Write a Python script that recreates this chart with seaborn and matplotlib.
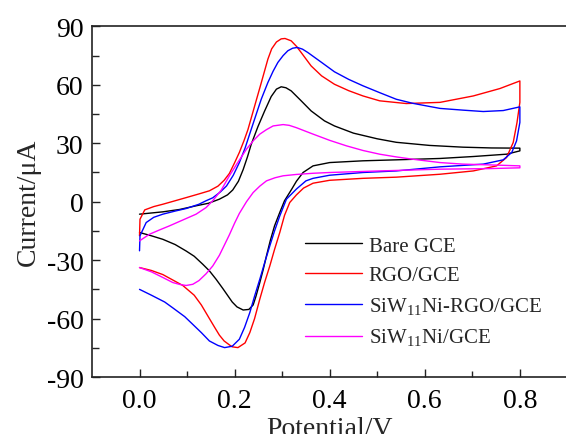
import numpy as np
import pandas as pd
import matplotlib
matplotlib.use("Agg")
import matplotlib.pyplot as plt
import seaborn as sns

# cyclic voltammograms (potential in V, current in uA)
labels = ["Bare GCE", "RGO/GCE", r"SiW$_{\rm 11}$Ni-RGO/GCE", r"SiW$_{\rm 11}$Ni/GCE"]
colors = ["black", "red", "blue", "magenta"]

# Bare GCE: anodic sweep 0 -> 0.8 V, then cathodic sweep back to 0
bare_E = [0.0, 0.049, 0.084, 0.119, 0.145, 0.168, 0.185, 0.196, 0.208, 0.218, 0.227, 0.235,
          0.249, 0.263, 0.277, 0.288, 0.298, 0.308, 0.319, 0.34, 0.361, 0.389, 0.41, 0.45,
          0.5, 0.54, 0.61, 0.68, 0.74, 0.8,
          0.8, 0.772, 0.702, 0.632, 0.54, 0.47, 0.4, 0.365, 0.344, 0.33, 0.32, 0.305, 0.295,
          0.284, 0.275, 0.267, 0.26, 0.253, 0.245, 0.239, 0.23, 0.218, 0.205, 0.195, 0.185,
          0.175, 0.161, 0.147, 0.133, 0.115, 0.098, 0.075, 0.049, 0.025, 0.0]
bare_I = [-6.4, -5.2, -4.0, -2.1, -0.8, 1.3, 3.5, 6.0, 10.5, 16.5, 23.0, 29.5,
          38.5, 46.5, 54.0, 57.8, 59.0, 58.5, 56.9, 51.8, 46.6, 41.5, 38.9, 35.2,
          32.3, 30.5, 28.9, 28.0, 27.6, 27.5,
          26.1, 24.4, 23.2, 22.2, 21.5, 21.0, 20.1, 18.4, 15.0, 10.5, 6.4, 0.5, -5.5,
          -12.4, -20.0, -27.8, -35.0, -41.5, -48.5, -53.0, -55.3, -55.6, -54.0, -51.5, -48.0,
          -44.5, -39.8, -35.5, -32.1, -28.0, -25.3, -22.0, -19.3, -17.5, -15.8]

# RGO/GCE
rgo_E = [0.0, 0.001, 0.011, 0.03, 0.049, 0.075, 0.098, 0.125, 0.147, 0.165, 0.178, 0.189,
         0.2, 0.21, 0.22, 0.228, 0.242, 0.256, 0.27, 0.278, 0.288, 0.298, 0.306, 0.319,
         0.33, 0.34, 0.361, 0.383, 0.41, 0.44, 0.47, 0.505, 0.561, 0.632, 0.702, 0.758, 0.8,
         0.8, 0.794, 0.786, 0.772, 0.751, 0.702, 0.632, 0.54, 0.47, 0.4, 0.365, 0.345, 0.33,
         0.316, 0.305, 0.295, 0.284, 0.274, 0.263, 0.253, 0.242, 0.232, 0.222, 0.207, 0.195,
         0.189, 0.178, 0.168, 0.158, 0.147, 0.13, 0.115, 0.091, 0.07, 0.049, 0.025, 0.0]
rgo_I = [-17.5, -9.0, -4.2, -2.5, -1.3, 0.5, 2.1, 4.0, 5.6, 8.0, 11.0, 14.5,
         20.0, 25.3, 31.5, 37.0, 49.0, 61.0, 73.2, 78.5, 82.0, 83.6, 83.8, 82.6,
         79.8, 76.6, 69.7, 64.6, 60.3, 57.0, 54.3, 51.8, 50.4, 51.0, 54.3, 58.1, 62.0,
         51.0, 40.7, 30.4, 22.7, 18.4, 15.8, 14.1, 12.6, 12.0, 11.0, 9.5, 7.0, 3.5,
         -0.4, -7.0, -15.8, -24.5, -33.0, -41.5, -50.0, -60.0, -67.2, -72.5, -74.9, -74.5,
         -73.5, -71.5, -68.5, -64.5, -60.0, -53.0, -48.0, -43.0, -40.2, -37.4, -35.3, -33.8]

# SiW11Ni-RGO/GCE
mix_E = [0.0, 0.001, 0.014, 0.03, 0.049, 0.075, 0.098, 0.125, 0.14, 0.154, 0.17, 0.183,
         0.197, 0.21, 0.222, 0.235, 0.249, 0.256, 0.27, 0.281, 0.291, 0.302, 0.312, 0.322,
         0.332, 0.343, 0.354, 0.383, 0.41, 0.44, 0.47, 0.505, 0.54, 0.575, 0.61, 0.632,
         0.681, 0.723, 0.765, 0.8,
         0.8, 0.793, 0.783, 0.765, 0.723, 0.632, 0.54, 0.47, 0.4, 0.365, 0.35, 0.33, 0.309,
         0.295, 0.284, 0.274, 0.263, 0.253, 0.242, 0.232, 0.221, 0.21, 0.195, 0.179, 0.165,
         0.147, 0.13, 0.11, 0.095, 0.07, 0.053, 0.025, 0.0]
mix_I = [-25.2, -17.5, -10.7, -8.0, -6.4, -4.8, -3.5, -1.3, 0.5, 2.0, 5.0, 8.1,
         13.5, 20.1, 27.5, 37.2, 47.5, 52.6, 61.2, 67.0, 71.5, 75.0, 77.5, 78.8,
         79.2, 78.3, 76.6, 71.5, 66.7, 62.8, 59.5, 56.0, 52.6, 50.5, 48.9, 47.9,
         47.0, 46.3, 46.8, 48.7,
         40.7, 31.2, 25.3, 21.5, 19.3, 17.9, 15.8, 15.0, 13.6, 12.0, 10.7, 6.5, 1.3,
         -7.3, -15.0, -22.7, -31.5, -39.8, -48.5, -56.9, -64.5, -70.6, -74.2, -74.9, -73.8,
         -71.5, -67.2, -62.5, -59.0, -54.5, -51.5, -48.0, -45.0]

# SiW11Ni/GCE
poly_E = [0.0, 0.021, 0.042, 0.063, 0.09, 0.119, 0.14, 0.154, 0.172, 0.189, 0.205, 0.225,
          0.24, 0.253, 0.267, 0.281, 0.302, 0.315, 0.33, 0.365, 0.4, 0.435, 0.47, 0.505,
          0.54, 0.575, 0.632, 0.68, 0.737, 0.8,
          0.8, 0.737, 0.632, 0.505, 0.4, 0.365, 0.33, 0.302, 0.285, 0.267, 0.253, 0.239,
          0.225, 0.21, 0.2, 0.189, 0.179, 0.168, 0.154, 0.14, 0.125, 0.112, 0.098, 0.085,
          0.07, 0.049, 0.025, 0.0]
poly_I = [-20.1, -16.7, -14.5, -12.4, -9.5, -6.4, -3.0, 0.5, 6.0, 13.3, 19.5, 27.0,
          31.5, 34.7, 37.0, 38.9, 39.6, 39.2, 38.0, 34.7, 31.5, 28.7, 26.3, 24.4,
          23.0, 21.8, 20.1, 19.3, 18.9, 18.4,
          17.4, 17.0, 16.7, 15.8, 15.0, 14.6, 14.0, 13.3, 12.3, 10.7, 8.0, 4.7,
          0.0, -6.0, -11.0, -17.0, -22.0, -27.5, -33.0, -37.0, -40.5, -42.4, -43.0, -42.5,
          -41.5, -38.9, -36.0, -33.8]

frames = []
for lab, E, I in zip(labels, [bare_E, rgo_E, mix_E, poly_E], [bare_I, rgo_I, mix_I, poly_I]):
    frames.append(pd.DataFrame({"Potential": E, "Current": I, "electrode": lab}))
df = pd.concat(frames, ignore_index=True)

sns.set_style("ticks")
plt.rcParams["font.family"] = ["Liberation Serif", "DejaVu Serif"]
plt.rcParams["mathtext.fontset"] = "custom"
plt.rcParams["mathtext.rm"] = "Liberation Serif"
plt.rcParams["axes.unicode_minus"] = False

fig = plt.figure(figsize=(5.66, 4.35), dpi=100)
ax = fig.add_axes([0.1625, 0.131, 0.84, 0.806])

sns.lineplot(data=df, x="Potential", y="Current", hue="electrode", hue_order=labels,
             palette=dict(zip(labels, colors)), sort=False, estimator=None,
             linewidth=1.0, ax=ax)

ax.set_xlim(-0.1, 0.9)
ax.set_ylim(-90, 90)
ax.set_xticks([0.0, 0.2, 0.4, 0.6, 0.8])
ax.set_xticks([0.1, 0.3, 0.5, 0.7], minor=True)
ax.set_yticks(np.arange(-90, 91, 30))
ax.set_yticks(np.arange(-75, 90, 30), minor=True)
ax.set_xticklabels(["0.0", "0.2", "0.4", "0.6", "0.8"])
ax.tick_params(axis="both", which="major", direction="in", labelsize=20, width=1.0,
               length=6, colors="#222222", labelcolor="black")
ax.tick_params(axis="x", which="minor", direction="in", length=4, width=1.0, colors="#222222")
ax.tick_params(axis="y", which="minor", direction="in", length=5, width=1.0, colors="#222222")
ax.tick_params(axis="x", pad=8)
ax.tick_params(axis="y", pad=6)

ax.spines["right"].set_visible(False)
for s in ["left", "top", "bottom"]:
    ax.spines[s].set_linewidth(1.2)
    ax.spines[s].set_color("#222222")

ax.set_xlabel("Potential/V", fontsize=20, labelpad=2)
ax.set_ylabel("Current/\u03bcA", fontsize=20, labelpad=4)

handles, labs = ax.get_legend_handles_labels()
ax.legend(handles, labs, loc="upper left", bbox_to_anchor=(0.539, 0.455),
          bbox_transform=fig.transFigure, frameon=False, fontsize=15,
          handlelength=2.75, handletextpad=0.3, labelspacing=0.48,
          borderpad=0, borderaxespad=0)

fig.savefig("out.png", dpi=100)
